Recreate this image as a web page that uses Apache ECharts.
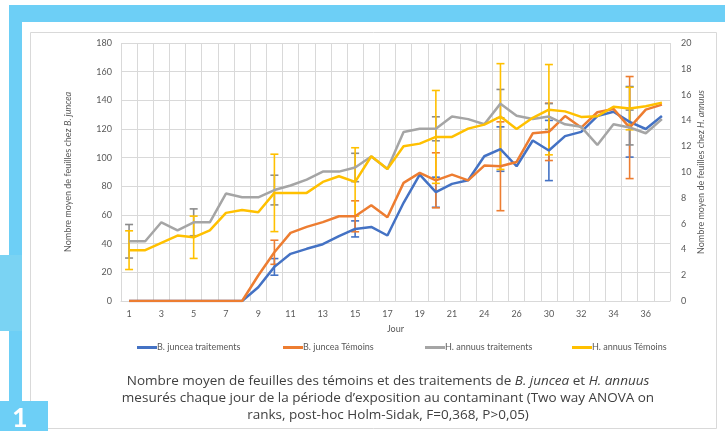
<!DOCTYPE html>
<html>
<head>
<meta charset="utf-8">
<script src="https://cdn.jsdelivr.net/npm/echarts@6/dist/echarts.min.js"></script>
<style>
  html, body { margin: 0; padding: 0; background: #fff; }
  #chart { width: 725px; height: 431px; }
</style>
</head>
<body>
<div id="chart"></div>
<script>
// jours de mesure (axe des catégories)
const jours = [1, 2, 3, 4, 5, 6, 7, 8, 9, 10, 11, 12, 13, 14, 15, 16, 17, 18, 19, 20, 21,
  22, 24, 25, 26, 29, 30, 31, 32, 33, 34, 35, 36, 37];

// B. juncea : axe de gauche
const junceaTraitements = [0, 0, 0, 0, 0, 0, 0, 0, 9.6, 23.8, 32.9, 36.4, 39.6, 45.2, 50.3, 51.7, 45.7,
  68.5, 88.2, 75.9, 81.7, 84.2, 101, 106, 94, 112, 105, 115, 118, 129, 132, 125, 120, 129];
const junceaTemoins = [0, 0, 0, 0, 0, 0, 0, 0, 17.8, 34, 47.5, 51.7, 55, 59.1, 59.1, 66.8, 58.4,
  82.4, 89.4, 84.2, 88.2, 84.2, 94.5, 94, 97, 117, 118, 129, 121, 131.7, 134, 121, 133.5, 137];

// H. annuus : axe de droite
const annuusTraitements = [4.63, 4.63, 6.1, 5.48, 6.1, 6.1, 8.33, 8.04, 8.04, 8.6, 8.95, 9.41, 10.03,
  10.03, 10.35, 11.2, 10.24, 13.1, 13.35, 13.35, 14.3, 14.1, 13.7, 15.3, 14.36, 14.11, 14.3, 13.7,
  13.5, 12.1, 13.7, 13.45, 13.0, 14.1];
const annuusTemoins = [3.94, 3.94, 4.51, 5.07, 4.94, 5.48, 6.83, 7.06, 6.88, 8.38, 8.38, 8.38, 9.23,
  9.67, 9.23, 11.22, 10.24, 11.99, 12.2, 12.72, 12.72, 13.36, 13.67, 14.3, 13.33, 14.2, 14.83, 14.7,
  14.27, 14.32, 15.06, 14.92, 15.1, 15.38];

// barres d'erreur (demi-largeur) aux jours 1, 5, 10, 15, 20, 25, 30, 35
const indexErreurs = [0, 4, 9, 14, 19, 23, 26, 31];
const errJunceaTraitements = [0, 0, 5.8, 5.6, 10.5, 15.5, 21, 24.6];
const errJunceaTemoins = [0, 0, 8.4, 10.8, 19.2, 31, 20, 35.6];
const errAnnuusTraitements = [1.3, 1.04, 1.15, 1.1, 0.93, 1.1, 1.0, 1.35];
const errAnnuusTemoins = [1.5, 1.64, 3.0, 2.65, 3.6, 4.1, 3.5, 1.65];

const ticksGauche = { min: 0, max: 180, interval: 20 };
const ticksDroite = { min: 0, max: 20, interval: 2 };

const couleurs = ['#4472C4', '#ED7D31', '#A5A5A5', '#FFC000'];
const bleu = '#6DCFF6';
const police = 'Lato, "Liberation Sans", sans-serif';
const policeLegende = '"Open Sans", Lato, sans-serif';

const chart = echarts.init(document.getElementById('chart'));

// construit les données [index, bas, haut] d'une série de barres d'erreur
function donneesErreur(valeurs, erreurs) {
  return indexErreurs.map((idx, k) => [idx, valeurs[idx] - erreurs[k], valeurs[idx] + erreurs[k], erreurs[k]]);
}

function barreErreur(couleur) {
  return function (params, api) {
    if (api.value(3) === 0) return null;
    const x = api.value(0);
    const bas = api.coord([x, api.value(1)]);
    const haut = api.coord([x, api.value(2)]);
    const w = 4;
    const style = { stroke: couleur, lineWidth: 1.6 };
    return {
      type: 'group',
      children: [
        { type: 'line', shape: { x1: bas[0], y1: bas[1], x2: haut[0], y2: haut[1] }, style: style },
        { type: 'line', shape: { x1: bas[0] - w, y1: bas[1], x2: bas[0] + w, y2: bas[1] }, style: style },
        { type: 'line', shape: { x1: haut[0] - w, y1: haut[1], x2: haut[0] + w, y2: haut[1] }, style: style }
      ]
    };
  };
}

function ligne(nom, data, axe, couleur) {
  return {
    name: nom, type: 'line', data: data, yAxisIndex: axe,
    symbol: 'none', color: couleur,
    lineStyle: { width: 2.5, color: couleur }
  };
}

function erreurs(nom, valeurs, errs, axe, couleur) {
  return {
    name: nom, type: 'custom', yAxisIndex: axe, z: 3,
    renderItem: barreErreur(couleur),
    data: donneesErreur(valeurs, errs)
  };
}

const texteAxe = { color: '#595959', fontSize: 9, fontFamily: police };
const nomAxe = {
  color: '#595959', fontSize: 9, fontFamily: police,
  rich: { i: { fontStyle: 'italic', color: '#595959', fontSize: 9, fontFamily: police } }
};

function legende(nom, gauche) {
  return {
    data: [nom], left: gauche, top: 338, icon: 'rect', itemWidth: 20, itemHeight: 3, itemGap: 0,
    textStyle: { color: '#595959', fontSize: 9, fontFamily: police, padding: [0, 0, 0, -5] }
  };
}

const legende1 = 'B. juncea traitements';
const legende2 = 'B. juncea Témoins';
const legende3 = 'H. annuus traitements';
const legende4 = 'H. annuus Témoins';

const captionRich = {
  i: { fontStyle: 'italic', fontSize: 13.5, fontFamily: policeLegende, fill: '#404040', color: '#404040' }
};

const option = {
  animation: false,
  backgroundColor: '#fff',
  grid: { left: 121, right: 55, top: 43, bottom: 130 },
  legend: [legende(legende1, 132), legende(legende2, 278), legende(legende3, 420), legende(legende4, 567)],
  xAxis: {
    type: 'category', data: jours, boundaryGap: true,
    name: 'Jour', nameLocation: 'middle', nameGap: 24,
    nameTextStyle: { color: '#595959', fontSize: 9, fontFamily: police },
    axisLine: { lineStyle: { color: '#D9D9D9' } },
    axisTick: { show: false },
    axisLabel: Object.assign({ interval: 1, margin: 9 }, texteAxe),
    splitLine: { show: true, interval: 0, lineStyle: { color: '#D9D9D9' } }
  },
  yAxis: [
    {
      type: 'value', min: ticksGauche.min, max: ticksGauche.max, interval: ticksGauche.interval,
      name: 'Nombre moyen de feuilles chez {i|B. juncea}', nameLocation: 'middle', nameRotate: 90,
      nameGap: 48, nameMoveOverlap: false,
      nameTextStyle: nomAxe,
      axisLine: { show: false }, axisTick: { show: false },
      axisLabel: Object.assign({ margin: 9 }, texteAxe),
      splitLine: { lineStyle: { color: '#D9D9D9' } }
    },
    {
      type: 'value', min: ticksDroite.min, max: ticksDroite.max, interval: ticksDroite.interval,
      name: 'Nombre moyen de feuilles chez {i|H. annuus}', nameLocation: 'middle', nameRotate: 90,
      nameGap: 27, nameMoveOverlap: false,
      nameTextStyle: nomAxe,
      axisLine: { show: false }, axisTick: { show: false },
      axisLabel: Object.assign({ margin: 11 }, texteAxe),
      splitLine: { show: false }
    }
  ],
  series: [
    ligne(legende1, junceaTraitements, 0, couleurs[0]),
    ligne(legende2, junceaTemoins, 0, couleurs[1]),
    ligne(legende3, annuusTraitements, 1, couleurs[2]),
    ligne(legende4, annuusTemoins, 1, couleurs[3]),
    erreurs('err1', junceaTraitements, errJunceaTraitements, 0, couleurs[0]),
    erreurs('err2', junceaTemoins, errJunceaTemoins, 0, couleurs[1]),
    erreurs('err3', annuusTraitements, errAnnuusTraitements, 1, '#8C8C8C'),
    erreurs('err4', annuusTemoins, errAnnuusTemoins, 1, couleurs[3])
  ],
  graphic: [
    // cadre décoratif
    { type: 'rect', z: -10, shape: { x: 9, y: 5, width: 716, height: 17 }, style: { fill: bleu } },
    { type: 'rect', z: -10, shape: { x: 9, y: 5, width: 13, height: 426 }, style: { fill: bleu } },
    { type: 'rect', z: -10, shape: { x: 0, y: 255, width: 22, height: 76 }, style: { fill: '#7AD3F3' } },
    { type: 'rect', z: -10, shape: { x: 0, y: 401, width: 48, height: 30 }, style: { fill: bleu } },
    { type: 'rect', z: -11, shape: { x: 30.5, y: 32.5, width: 686, height: 396 },
      style: { fill: '#fff', stroke: '#D9D9D9', lineWidth: 1 } },
    { type: 'text', z: 10, x: 12, y: 405,
      style: { text: '1', fill: '#fff', fontSize: 27, fontWeight: 'bold', fontFamily: police } },
    // légende du graphique
    { type: 'text', x: 388, y: 381,
      style: { text: 'Nombre moyen de feuilles des témoins et des traitements de {i|B. juncea} et {i|H. annuus}',
        rich: captionRich, fill: '#404040', fontSize: 13.5, fontFamily: policeLegende, align: 'center', verticalAlign: 'middle' } },
    { type: 'text', x: 388, y: 398,
      style: { text: 'mesurés chaque jour de la période d\u2019exposition au contaminant (Two way ANOVA on',
        fill: '#404040', fontSize: 13.5, fontFamily: policeLegende, align: 'center', verticalAlign: 'middle' } },
    { type: 'text', x: 388, y: 415,
      style: { text: 'ranks, post-hoc Holm-Sidak, F=0,368, P>0,05)',
        fill: '#404040', fontSize: 13.5, fontFamily: policeLegende, align: 'center', verticalAlign: 'middle' } }
  ]
};

chart.setOption(option);
</script>
</body>
</html>
